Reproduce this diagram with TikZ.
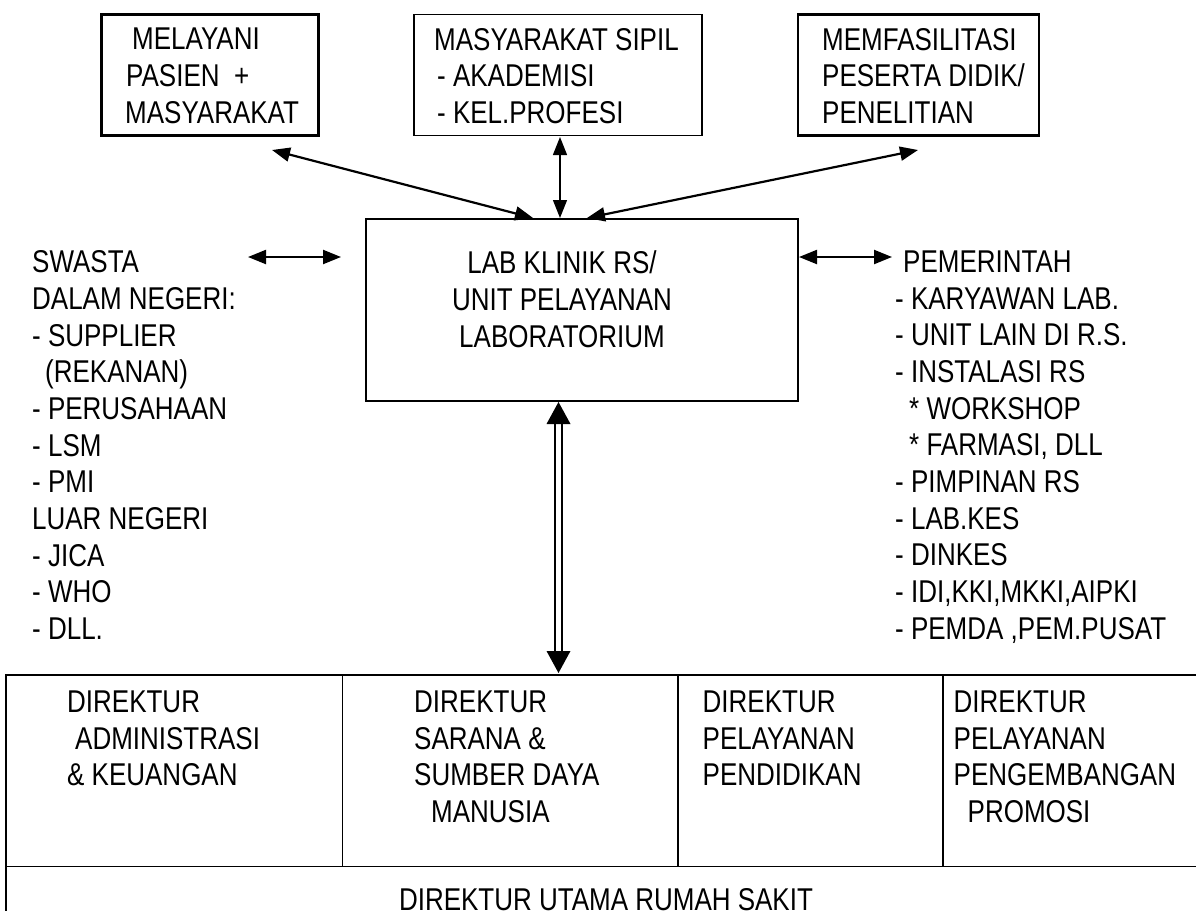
\documentclass[tikz,border=0pt]{standalone}
\usepackage{fontspec}
\setmainfont{Liberation Sans}[FakeStretch=0.825]
\usetikzlibrary{arrows.meta}
\begin{document}
\begin{tikzpicture}[x=1pt,y=-1pt,
  txt/.style={inner sep=0pt, anchor=north west, align=left, font=\fontsize{31.5pt}{36.66pt}\selectfont},
  thickbox/.style={draw, line width=2.8pt, inner sep=0pt},
  thinbox/.style={draw, line width=1.5pt, inner sep=0pt},
  tip/.style={Triangle[length=18pt,width=14pt]},
  arr/.style={line width=2.2pt, {Triangle[length=18pt,width=14pt]}-{Triangle[length=18pt,width=14pt]}},
  varr/.style={line width=1.4pt, {Triangle[length=18pt,width=14pt]}-{Triangle[length=18pt,width=14pt]}},
  tablebox/.style={line width=1.8pt}
]
\useasboundingbox (0,0) rectangle (1196,910);
\clip (0,0) rectangle (1196,910);
% top boxes
\node[thickbox, minimum width=217pt, minimum height=121pt] (b1) at (210,75) {};
\node[thinbox, minimum width=288pt, minimum height=121pt] (b2) at (558,75) {};
\node[thickbox, minimum width=241pt, minimum height=121pt] (b3) at (918.5,75) {};
\node[txt] (t1) at (125,28) {\hspace{7pt}MELAYANI\\\hspace{1pt}PASIEN~~+\\MASYARAKAT};
\node[txt] (t2) at (434,28) {MASYARAKAT SIPIL\\\hspace{3pt}- AKADEMISI\\\hspace{3pt}- KEL.PROFESI};
\node[txt] (t3) at (822,28) {MEMFASILITASI\\PESERTA DIDIK/\\PENELITIAN};
% center box
\node[draw, line width=2.4pt, minimum width=432pt, minimum height=182pt, inner sep=0pt] (lab) at (582,310) {};
\node[inner sep=0pt, anchor=north, align=center, font=\fontsize{31.5pt}{36.66pt}\selectfont] (labt) at (562,250.7) {LAB KLINIK RS/\\UNIT PELAYANAN\\LABORATORIUM};
% side texts
\node[txt] (left) at (32,250.7) {SWASTA\\DALAM NEGERI:\\- SUPPLIER\\\hspace{13pt}(REKANAN)\\- PERUSAHAAN\\- LSM\\- PMI\\LUAR NEGERI\\- JICA\\- WHO\\- DLL.};
\node[txt] (right) at (895,250.7) {\hspace{8pt}PEMERINTAH\\- KARYAWAN LAB.\\- UNIT LAIN DI R.S.\\- INSTALASI RS\\\hspace{14pt}* WORKSHOP\\\hspace{14pt}* FARMASI, DLL\\- PIMPINAN RS\\- LAB.KES\\- DINKES\\- IDI,KKI,MKKI,AIPKI\\- PEMDA ,PEM.PUSAT};
% arrow coordinates
\coordinate (a1s) at (272,150);
\coordinate (a1e) at (533,218);
\coordinate (a2s) at (560,137);
\coordinate (a2e) at (560,218);
\coordinate (a3s) at (587,218);
\coordinate (a3e) at (918,150);
\coordinate (als) at (248,257);
\coordinate (ale) at (341,257);
\coordinate (ars) at (799,257);
\coordinate (are) at (892,257);
\draw[arr] (a1s) -- (a1e);
\draw[varr] (a2s) -- (a2e);
\draw[arr] (a3s) -- (a3e);
\draw[arr] (als) -- (ale);
\draw[arr] (ars) -- (are);
% double arrow
\coordinate (dtop) at (558.5,402);
\coordinate (dbot) at (558.5,673);
\draw[line width=1.6pt] ([xshift=-3.5pt,yshift=-20pt]dtop) -- ([xshift=-3.5pt,yshift=20pt]dbot);
\draw[line width=1.6pt] ([xshift=3.5pt,yshift=-20pt]dtop) -- ([xshift=3.5pt,yshift=20pt]dbot);
\fill (dtop) -- ++(-12,22) -- ++(24,0) -- cycle;
\fill (dbot) -- ++(-12,-22) -- ++(24,0) -- cycle;
% bottom table
\draw[tablebox] (6,675) rectangle (1210,930);
\draw[tablebox] (6,866.5) -- (1210,866.5);
\draw[tablebox] (342.5,675) -- (342.5,866.5);
\draw[tablebox] (678,675) -- (678,866.5);
\draw[tablebox] (943,675) -- (943,866.5);
\node[txt] (d1) at (67,690.7) {DIREKTUR\\\hspace{8pt}ADMINISTRASI\\\& KEUANGAN};
\node[txt] (d2) at (414,690.7) {DIREKTUR\\SARANA \&\\SUMBER DAYA\\\hspace{17pt}MANUSIA};
\node[txt] (d3) at (702.5,690.7) {DIREKTUR\\PELAYANAN\\PENDIDIKAN};
\node[txt] (d4) at (953.5,690.7) {DIREKTUR\\PELAYANAN\\PENGEMBANGAN\\\hspace{14pt}PROMOSI};
\node[inner sep=0pt, anchor=north, font=\fontsize{31.5pt}{36.66pt}\selectfont] (dut) at (606,888) {DIREKTUR UTAMA RUMAH SAKIT};
\end{tikzpicture}
\end{document}
